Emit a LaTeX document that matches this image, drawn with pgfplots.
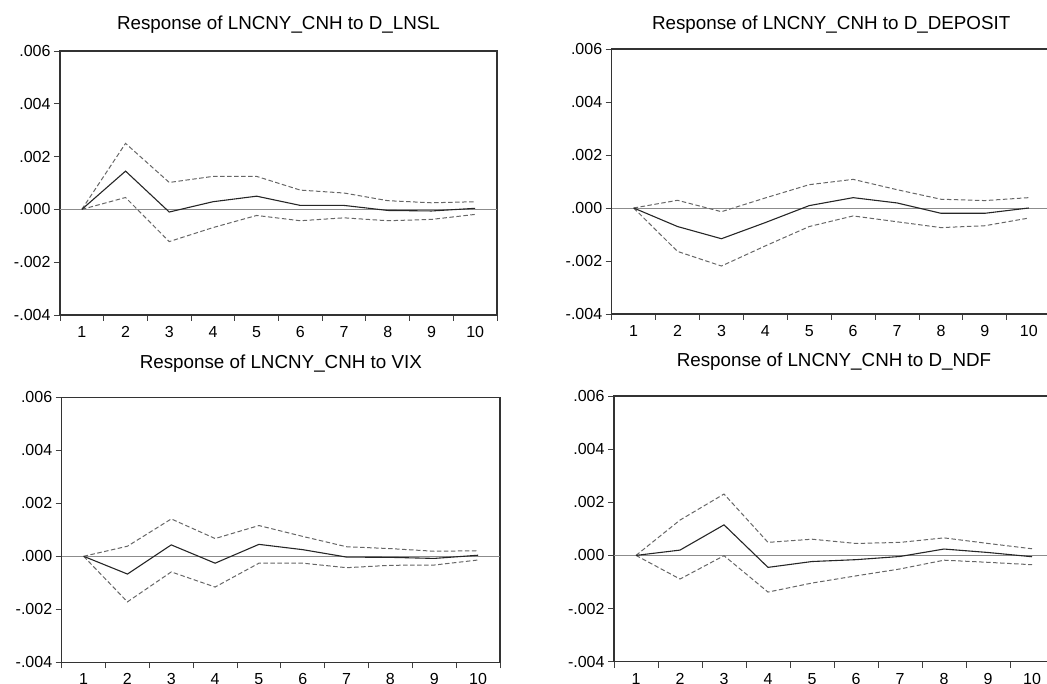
\documentclass[border=0pt]{standalone}
\usepackage{pgfplots}
\pgfplotsset{compat=1.18}
\usepackage{fontspec}
\setmainfont{Liberation Sans}

\pgfplotsset{
  irf/.style={
    scale only axis,
    xmin=0.5, xmax=10.5,
    ymin=-0.004, ymax=0.006,
    xtick={1,...,10},
    xticklabels={1,2,3,4,5,6,7,8,9,10},
    minor xtick={0.5,1.5,...,10.5},
    ytick={-0.004,-0.002,0,0.002,0.004,0.006},
    yticklabels={-.004,-.002,.000,.002,.004,.006},
    scaled y ticks=false,
    xtick pos=bottom, ytick pos=left,
    tick align=outside,
    major tick length=6pt, minor tick length=6pt,
    tick style={black!75, line width=0.9pt},
    major x tick style={draw=none},
    axis line style={black!80, line width=1.1pt},
    tick label style={font=\fontsize{16}{19}\selectfont, text=black},
    xticklabel style={yshift=-2pt},
    clip=false,
  },
}
\tikzset{
  est/.style={black!85, line width=1.1pt},
  band/.style={black!60, line width=1pt, dash pattern=on 4.5pt off 2.5pt},
  zero/.style={black!45, line width=0.8pt},
  ttl/.style={font=\fontsize{18.8}{22}\selectfont},
}

\begin{document}
\begin{tikzpicture}
\path[use as bounding box] (0pt,0pt) rectangle (1047pt,684pt);
\clip (0pt,0pt) rectangle (1047pt,684pt);

% top left
\begin{axis}[irf, at={(60pt,369pt)}, anchor=south west, width=437pt, height=264pt]
\addplot[zero] coordinates {(0.5,0) (10.5,0)};
\addplot[band] coordinates {(1,0) (2,0.0025) (3,0.00102) (4,0.00125) (5,0.00125) (6,0.00073) (7,0.00062) (8,0.00033) (9,0.00025) (10,0.00029)};
\addplot[band] coordinates {(1,0) (2,0.00045) (3,-0.00122) (4,-0.00069) (5,-0.00023) (6,-0.00043) (7,-0.00032) (8,-0.00043) (9,-0.00038) (10,-0.00019)};
\addplot[est] coordinates {(1,0) (2,0.00145) (3,-0.0001) (4,0.00029) (5,0.0005) (6,0.00015) (7,0.00015) (8,-0.00004) (9,-0.00006) (10,0.00004)};
\node[ttl] at (rel axis cs:0.5,1) [yshift=26pt] {Response of LNCNY\_CNH to D\_LNSL};
\end{axis}

% top right
\begin{axis}[irf, at={(611.7pt,370pt)}, anchor=south west, width=439pt, height=265pt]
\addplot[zero] coordinates {(0.5,0) (10.5,0)};
\addplot[band] coordinates {(1,0) (2,0.00029) (3,-0.00014) (4,0.00038) (5,0.00088) (6,0.00108) (7,0.00069) (8,0.00033) (9,0.00028) (10,0.00039)};
\addplot[band] coordinates {(1,0) (2,-0.00164) (3,-0.00219) (4,-0.00143) (5,-0.0007) (6,-0.0003) (7,-0.00052) (8,-0.00074) (9,-0.00067) (10,-0.00038)};
\addplot[est] coordinates {(1,0) (2,-0.0007) (3,-0.00116) (4,-0.00055) (5,0.00009) (6,0.00039) (7,0.00019) (8,-0.0002) (9,-0.0002) (10,0)};
\node[ttl] at (rel axis cs:0.5,1) [yshift=24pt] {Response of LNCNY\_CNH to D\_DEPOSIT};
\end{axis}

% bottom left
\begin{axis}[irf, at={(61.7pt,21.7pt)}, anchor=south west, width=438.3pt, height=265pt]
\addplot[zero] coordinates {(0.5,0) (10.5,0)};
\addplot[band] coordinates {(1,0) (2,0.00038) (3,0.00141) (4,0.00067) (5,0.00116) (6,0.00075) (7,0.00036) (8,0.00029) (9,0.00019) (10,0.00021)};
\addplot[band] coordinates {(1,0) (2,-0.00172) (3,-0.00059) (4,-0.00116) (5,-0.00026) (6,-0.00026) (7,-0.00043) (8,-0.00034) (9,-0.00033) (10,-0.00014)};
\addplot[est] coordinates {(1,0) (2,-0.00067) (3,0.00043) (4,-0.00026) (5,0.00045) (6,0.00025) (7,-0.00003) (8,-0.00004) (9,-0.00008) (10,0.00004)};
\node[ttl] at (rel axis cs:0.5,1) [yshift=34pt] {Response of LNCNY\_CNH to VIX};
\end{axis}

% bottom right
\begin{axis}[irf, at={(614pt,22.3pt)}, anchor=south west, width=440pt, height=265.7pt]
\addplot[zero] coordinates {(0.5,0) (10.5,0)};
\addplot[band] coordinates {(1,0) (2,0.00133) (3,0.00231) (4,0.00049) (5,0.00061) (6,0.00045) (7,0.00049) (8,0.00066) (9,0.00045) (10,0.00025)};
\addplot[band] coordinates {(1,0) (2,-0.00089) (3,-0.00001) (4,-0.00138) (5,-0.00104) (6,-0.00077) (7,-0.00051) (8,-0.00018) (9,-0.00026) (10,-0.00035)};
\addplot[est] coordinates {(1,0) (2,0.0002) (3,0.00115) (4,-0.00045) (5,-0.00023) (6,-0.00016) (7,-0.00004) (8,0.00024) (9,0.00011) (10,-0.00005)};
\node[ttl] at (rel axis cs:0.5,1) [yshift=34.3pt] {Response of LNCNY\_CNH to D\_NDF};
\end{axis}
\end{tikzpicture}
\end{document}
